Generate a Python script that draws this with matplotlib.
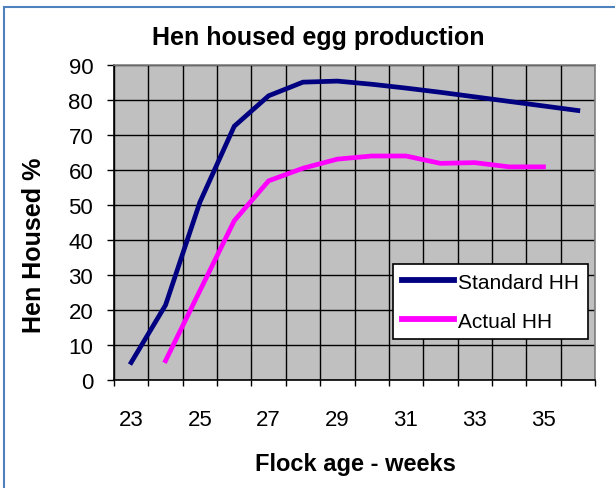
import numpy as np
import matplotlib.pyplot as plt
from matplotlib.patches import Rectangle

weeks = [23, 24, 25, 26, 27, 28, 29, 30, 31, 32, 33, 34, 35, 36]
standard_hh = [5, 21.4, 50.8, 72.5, 81.2, 85.1, 85.4, 84.5, 83.4, 82.2, 80.9, 79.6, 78.3, 77.0]
actual_weeks = [24, 25, 26, 27, 28, 29, 30, 31, 32, 33, 34, 35]
actual_hh = [5.5, 25.5, 45.5, 56.9, 60.5, 63.1, 64.0, 64.0, 61.9, 62.1, 60.9, 60.9]
tick_labels = ['23', '25', '27', '29', '31', '33', '35']

plt.rcParams['font.family'] = ['Liberation Sans', 'DejaVu Sans']

fig = plt.figure(figsize=(6.15, 4.89), dpi=100)
ax = fig.add_axes([114/615, 1-381/489, (595-114)/615, (381-66)/489])
ax.set_facecolor('#C0C0C0')

ax.plot(weeks, standard_hh, color='#000080', lw=3.4, label='Standard HH', solid_joinstyle='miter')
ax.plot(actual_weeks, actual_hh, color='#FF00FF', lw=3.4, label='Actual HH', solid_joinstyle='miter')

ax.set_xlim(22.5, 36.5)
ax.set_ylim(0, 90)

# category boundaries: gridlines + tick marks, labels at odd weeks
ax.set_xticks(np.arange(22.5, 37, 1))
ax.set_xticklabels([])
ax.set_xticks([int(t) for t in tick_labels], minor=True)
ax.set_xticklabels(tick_labels, minor=True)
ax.tick_params(axis='x', which='major', length=4, width=1, color='black', direction='out')
ax.tick_params(axis='x', which='minor', length=0, pad=21, labelsize=16)
ax.set_yticks(np.arange(0, 91, 10))
ax.tick_params(axis='y', length=5, width=1, color='black', pad=10, labelsize=16)
ax.grid(True, which='major', color='black', lw=1)
ax.set_axisbelow(True)
for s in ax.spines.values():
    s.set_color('#808080')
    s.set_linewidth(1.2)
ax.spines['left'].set_color('black')
ax.spines['bottom'].set_color('black')

leg = ax.legend(loc='upper left', bbox_to_anchor=(393/615, 1-265/489), bbox_transform=fig.transFigure,
                borderaxespad=0, fancybox=False, edgecolor='black', framealpha=1, fontsize=15,
                handlelength=2.5, handletextpad=0.2, labelspacing=0.95, borderpad=0.42)
leg.get_frame().set_linewidth(1.2)
for h in leg.get_lines():
    h.set_linewidth(4.2)

fig.text(318/615, 1-45/489, 'Hen housed egg production', ha='center', va='baseline',
         fontsize=18, fontweight='bold')
fig.text(355/615, 1-471/489, 'Flock age - weeks', ha='center', va='baseline',
         fontsize=17, fontweight='bold')
fig.text(34/615, 1-245/489, 'Hen Housed %', ha='center', va='center', rotation=90,
         fontsize=18, fontweight='bold')

fig.patches.append(Rectangle((4/615, -0.1), 1.2, 1.1 - 8/489, transform=fig.transFigure,
                             fill=False, edgecolor='#4F81BD', lw=1.5))

fig.savefig('out.png', dpi=100)
